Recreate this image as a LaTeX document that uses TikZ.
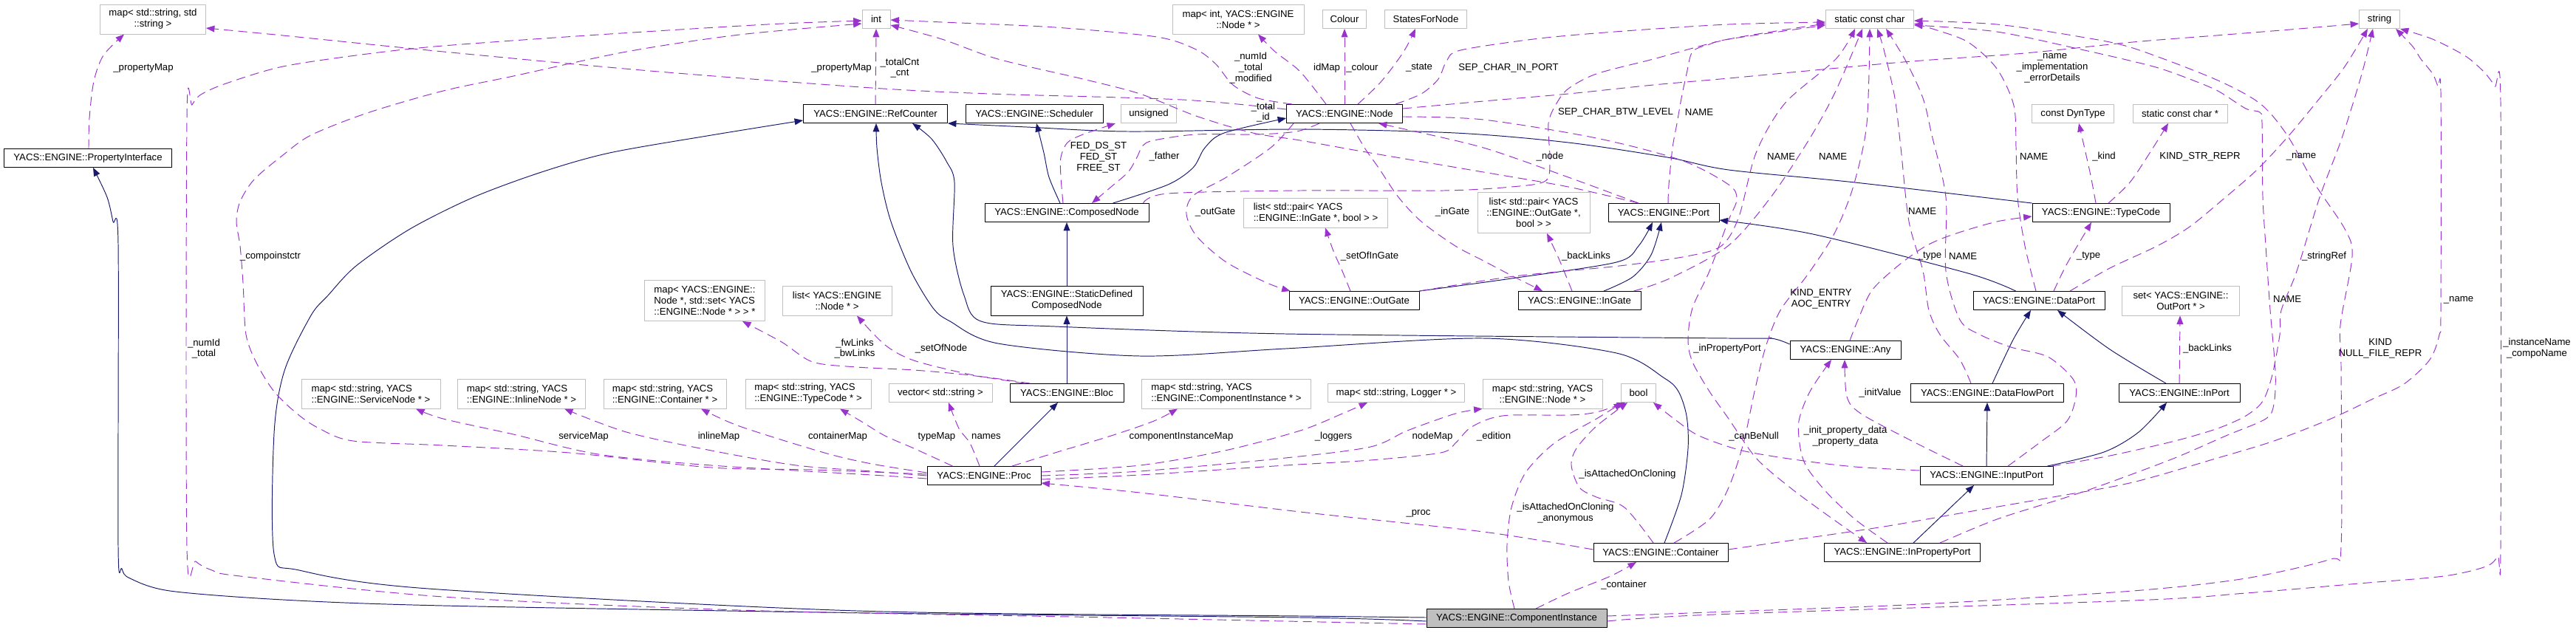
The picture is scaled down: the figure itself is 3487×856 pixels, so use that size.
\documentclass[tikz,border=0pt]{standalone}
\usepackage{fontspec}
\setmainfont{Liberation Sans}
\usetikzlibrary{arrows.meta,calc}
\definecolor{inhblue}{HTML}{191970}
\definecolor{usepurple}{HTML}{9A32CD}
\definecolor{boxgray}{HTML}{BFBFBF}
\begin{document}
\begin{tikzpicture}[x=0.02cm, y=-0.02cm, line join=round,
    cls/.style={draw=black, line width=0.55pt, inner sep=1pt, minimum height=0.5cm,
      font=\fontsize{7.5}{8.5}\selectfont, align=center},
    ext/.style={cls, draw=boxgray},
    bw/.style={minimum width=#1*0.02cm},
    twol/.style={minimum height=0.8cm},
    threel/.style={minimum height=1.1cm},
    lbl/.style={inner sep=0pt, font=\fontsize{7.5}{8.5}\selectfont, align=center},
    inh/.style={draw=inhblue, line width=0.55pt, -{Triangle[length=6.5pt,width=5pt]}},
    use/.style={draw=usepurple, line width=0.55pt, dash pattern=on 7pt off 4pt,
      -{Triangle[length=6.5pt,width=5pt]}},
    sm/.style={smooth, tension=0.5}]
  \fill[white] (0,0) rectangle (3487,856);
  \useasboundingbox (0,0) rectangle (3487,856);

  % types used by the classes
  \node[ext, bw=143, twol] (mapSS) at (207,26) {map< std::string, std\\::string >};
  \node[ext, bw=38] (intT) at (1186,26) {int};
  \node[ext, bw=178, twol] (mapIdNode) at (1676,26) {map< int, YACS::ENGINE\\::Node * >};
  \node[ext, bw=59] (colour) at (1820,26) {Colour};
  \node[ext, bw=111] (states) at (1930,26) {StatesForNode};
  \node[ext, bw=119] (sChar) at (2531,26) {static const char};
  \node[ext, bw=55] (stringT) at (3221,26) {string};
  \node[ext, bw=75] (unsignedT) at (1555,154) {unsigned};
  \node[ext, bw=111] (dynType) at (2806,154) {const DynType};
  \node[ext, bw=128] (sCharPtr) at (2951,154) {static const char *};
  \node[ext, bw=195, twol, align=left] (inGateList) at (1781,288) {list< std::pair< YACS\\::ENGINE::InGate *, bool > >};
  \node[ext, bw=152, threel] (outGateList) at (2076,288) {list< std::pair< YACS\\::ENGINE::OutGate *,\\bool > >};
  \node[ext, bw=163, threel, align=left] (nodeSetMap) at (954,407) {map< YACS::ENGINE::\\Node *, std::set< YACS\\::ENGINE::Node * > > *};
  \node[ext, bw=148, twol] (nodeList) at (1133,407) {list< YACS::ENGINE\\::Node * >};
  \node[ext, bw=159, twol] (outPortSet) at (2952,407) {set< YACS::ENGINE::\\OutPort * >};
  \node[ext, bw=188, twol, align=left] (serviceMapT) at (502,533) {map< std::string, YACS\\::ENGINE::ServiceNode * >};
  \node[ext, bw=173, twol, align=left] (inlineMapT) at (706,533) {map< std::string, YACS\\::ENGINE::InlineNode * >};
  \node[ext, bw=166, twol, align=left] (containerMapT) at (900,533) {map< std::string, YACS\\::ENGINE::Container * >};
  \node[ext, bw=170, twol, align=left] (typeMapT) at (1094,533) {map< std::string, YACS\\::ENGINE::TypeCode * >};
  \node[ext, bw=140] (strVector) at (1273,532) {vector< std::string >};
  \node[ext, bw=229, twol, align=left] (compoMapT) at (1660,533) {map< std::string, YACS\\::ENGINE::ComponentInstance * >};
  \node[ext, bw=185] (loggerMap) at (1890,532) {map< std::string, Logger * >};
  \node[ext, bw=162, twol] (nodeMapT) at (2088,533) {map< std::string, YACS\\::ENGINE::Node * >};
  \node[ext, bw=47] (boolT) at (2218,532) {bool};

  % classes
  \node[cls, bw=227] (propIface) at (119,214) {YACS::ENGINE::PropertyInterface};
  \node[cls, bw=195] (refCounter) at (1185,154) {YACS::ENGINE::RefCounter};
  \node[cls, bw=186] (scheduler) at (1400,154) {YACS::ENGINE::Scheduler};
  \node[cls, bw=157] (engNode) at (1820,154) {YACS::ENGINE::Node};
  \node[cls, bw=222] (composed) at (1444,288) {YACS::ENGINE::ComposedNode};
  \node[cls, bw=150] (port) at (2252,288) {YACS::ENGINE::Port};
  \node[cls, bw=186] (typeCode) at (2844,288) {YACS::ENGINE::TypeCode};
  \node[cls, bw=206, twol] (staticDef) at (1444,407) {YACS::ENGINE::StaticDefined\\ComposedNode};
  \node[cls, bw=176] (outGate) at (1833,407) {YACS::ENGINE::OutGate};
  \node[cls, bw=166] (inGate) at (2138,407) {YACS::ENGINE::InGate};
  \node[cls, bw=178] (dataPort) at (2760,407) {YACS::ENGINE::DataPort};
  \node[cls, bw=150] (any) at (2498,474) {YACS::ENGINE::Any};
  \node[cls, bw=154] (bloc) at (1444,532) {YACS::ENGINE::Bloc};
  \node[cls, bw=207] (dataFlow) at (2690,532) {YACS::ENGINE::DataFlowPort};
  \node[cls, bw=164] (inPort) at (2950,532) {YACS::ENGINE::InPort};
  \node[cls, bw=154] (proc) at (1332,644) {YACS::ENGINE::Proc};
  \node[cls, bw=180] (inputPort) at (2689,644) {YACS::ENGINE::InputPort};
  \node[cls, bw=182] (container) at (2248,748) {YACS::ENGINE::Container};
  \node[cls, bw=211] (inPropPort) at (2575,748) {YACS::ENGINE::InPropertyPort};
  \node[cls, bw=244, fill=boxgray] (compInst) at (2053,837) {YACS::ENGINE::ComponentInstance};

  % inheritance
  \draw[inh] plot[sm] coordinates {($(compInst.west)+(0,4)$) (1760,836) (1180,830) (600,820) (383,812) (230,800) (176,783) (165,770) (160,740) (160,330) (153,300) (145,267) ($(propIface.south)+(7,0)$)};
  \draw[inh] plot[sm] coordinates {($(compInst.west)+(0,-1)$) (1760,834) (1160,827) (580,797) (405,772) (371,750) (371,587) (385,502) (421,427) (444,400) (482,360) (555,310) (641,267) (733,233) (825,207) (963,183) ($(refCounter.west)+(0,9)$)};
  \draw[inh] plot[sm] coordinates {(typeCode.north west) (2511,247) (2340,230) (2257,213) (2123,193) (1970,180) (1760,175) (1527,178) (1390,172) (refCounter.south east)};
  \draw[inh] plot[sm] coordinates {($(container.north)+(5,0)$) (2276,670) (2285,607) (2283,563) (2272,530) (2253,512) (2188,478) (2008,458) (1740,472) (1543,482) (1351,465) (1286,435) (1263,417) (1233,367) (1206,300) (1193,247) (1187,200) ($(refCounter.south)+(1,0)$)};
  \draw[inh] plot[sm] coordinates {($(any.west)+(0,-8)$) (2397,458) (2340,458) (1740,452) (1428,442) (1328,435) (1305,400) (1290,333) (1292,247) (1282,220) (1261,188) ($(refCounter.south)+(50,0)$)};
  \draw[inh] plot[sm] coordinates {($(composed.north)+(-9,0)$) (1420,240) (1413,207) ($(scheduler.south)+(3,0)$)};
  \draw[inh] plot[sm] coordinates {($(composed.north east)+(-49,0)$) (1581,250) (1615,227) (1631,200) (1657,180) ($(engNode.west)+(0,6)$)};
  \draw[inh] (staticDef.north) -- (composed.south);
  \draw[inh] (bloc.north) -- (staticDef.south);
  \draw[inh] ($(proc.north)+(14,0)$) -- ($(bloc.south)+(-12,0)$);
  \draw[inh] plot[sm] coordinates {(outGate.north east) (2046,377) (2188,355) (2218,333) ($(port.south)+(-15,0)$)};
  \draw[inh] plot[sm] coordinates {($(inGate.north)+(33,0)$) (2210,375) (2235,345) ($(port.south)+(-3,0)$)};
  \draw[inh] plot[sm] coordinates {($(dataPort.north west)+(58,0)$) (2664,370) (2454,317) ($(port.east)+(0,10)$)};
  \draw[inh] plot[sm] coordinates {($(dataFlow.north)+(7,0)$) (2725,460) ($(dataPort.south)+(-11,0)$)};
  \draw[inh] plot[sm] coordinates {($(inPort.north)+(-18,0)$) (2856,473) ($(dataPort.south)+(25,0)$)};
  \draw[inh] (inputPort.north) -- (dataFlow.south);
  \draw[inh] plot[sm] coordinates {($(inputPort.north east)+(-8,0)$) (2848,612) (2895,585) ($(inPort.south)+(-17,0)$)};
  \draw[inh] ($(inPropPort.north)+(15,0)$) -- ($(inputPort.south)+(-17,0)$);

  % usage
  \draw[use] plot[sm] coordinates {($(propIface.north)+(1,0)$) (121,160) (127,110) (140,75) ($(mapSS.south)+(-39,0)$)};
  \draw[use] plot[sm] coordinates {($(engNode.west)+(0,-6)$) (1600,135) (1340,127) (1180,119) (880,96) (600,70) (383,48) ($(mapSS.east)+(0,12)$)};
  \draw[use] plot[sm] coordinates {($(compInst.west)+(0,8)$) (1500,836) (1000,826) (600,808) (325,780) (287,772) (265,760) (253,740) (253,160) (260,142) (272,128) (306,113) (383,90) (497,73) (600,62) (810,47) (1039,33) ($(intT.west)+(0,2)$)};
  \draw[use] plot[sm] coordinates {($(proc.west)+(0,-2)$) (1100,636) (963,633) (771,613) (600,603) (478,597) (432,580) (402,560) (371,530) (348,493) (333,453) (329,383) (325,333) (320,300) (325,273) (344,243) (383,210) (421,183) (497,153) (600,123) (695,103) (848,70) (1001,47) ($(intT.west)+(0,6)$)};
  \draw[use] (refCounter.north) -- (intT.south);
  \draw[use] plot[sm] coordinates {($(engNode.north west)+(8,0)$) (1703,133) (1669,115) (1646,87) (1619,67) (1566,50) (1428,37) (1275,30) ($(intT.east)+(0,1)$)};
  \draw[use] plot[sm] coordinates {($(port.north)+(-34,0)$) (2123,253) (2008,233) (1855,207) (1760,190) (1696,180) (1619,157) (1543,127) (1466,107) (1351,80) (1275,53) ($(intT.east)+(0,8)$)};
  \draw[use] plot[sm] coordinates {($(engNode.north)+(-25,0)$) (1760,97) (1726,70) ($(mapIdNode.south)+(27,0)$)};
  \draw[use] (engNode.north) -- (colour.south);
  \draw[use] plot[sm] coordinates {($(engNode.north)+(18,0)$) (1870,110) (1900,70) ($(states.south)+(-14,0)$)};
  \draw[use] plot[sm] coordinates {($(engNode.north)+(69,0)$) (1924,127) (1947,107) (1958,83) (1977,68) (2084,52) (2199,42) (2340,33) ($(sChar.west)+(0,4)$)};
  \draw[use] plot[sm] coordinates {($(composed.north east)+(-8,0)$) (1581,262) (1760,258) (1954,258) (2046,253) (2092,245) (2098,217) (2096,167) (2107,140) (2123,120) (2161,100) (2238,80) (2340,53) ($(sChar.west)+(0,6)$)};
  \draw[use] plot[sm] coordinates {($(engNode.south)+(-34,0)$) (1755,178) (1700,182) (1619,182) (1562,190) (1547,197) (1539,213) (1527,233) (1504,253) ($(composed.north)+(34,0)$)};
  \draw[use] plot[sm] coordinates {($(composed.north)+(-5,0)$) (1436,240) (1436,213) (1445,193) (1466,182) ($(unsignedT.south)+(-45,0)$)};
  \draw[use] plot[sm] coordinates {($(engNode.south west)+(10,0)$) (1720,200) (1660,240) (1615,265) (1606,290) (1620,320) (1660,355) (1715,383) ($(outGate.north west)+(2,0)$)};
  \draw[use] plot[sm] coordinates {($(engNode.south)+(8,0)$) (1847,200) (1866,227) (1893,267) (1924,300) (1970,333) (2008,353) (2046,373) ($(inGate.north)+(-50,0)$)};
  \draw[use] plot[sm] coordinates {($(outGate.north)+(-5,0)$) (1817,367) (1805,340) ($(inGateList.south)+(13,0)$)};
  \draw[use] plot[sm] coordinates {($(inGate.north)+(-10,0)$) (2110,350) ($(outGateList.south)+(18,0)$)};
  \draw[use] plot[sm] coordinates {($(port.north)+(-34,0)$) (2123,240) (2008,200) (1893,173) ($(engNode.south)+(46,0)$)};
  \draw[use] plot[sm] coordinates {($(port.north)+(6,0)$) (2259,250) (2264,200) (2270,167) (2276,133) (2283,100) (2291,70) (2314,60) (2340,53) ($(sChar.west)+(0,8)$)};
  \draw[use] plot[sm] coordinates {(outGate.north east) (2050,374) (2192,360) (2283,347) (2330,333) (2354,293) (2377,207) (2416,140) (2485,80) ($(sChar.south)+(-20,0)$)};
  \draw[use] plot[sm] coordinates {($(inGate.north east)+(-10,0)$) (2260,377) (2339,333) (2397,267) (2450,187) (2485,123) ($(sChar.south)+(-10,0)$)};
  \draw[use] plot[sm] coordinates {($(container.north)+(18,0)$) (2314,703) (2340,660) (2360,600) (2375,530) (2390,470) (2410,420) (2446,373) (2481,320) (2504,267) (2519,213) (2527,167) (2530,100) (sChar.south)};
  \draw[use] plot[sm] coordinates {($(dataFlow.north)+(-22,0)$) (2653,487) (2626,453) (2611,420) (2603,367) (2584,300) (2573,200) (2565,133) (2550,67) ($(sChar.south)+(10,0)$)};
  \draw[use] plot[sm] coordinates {($(inputPort.north)+(29,0)$) (2760,600) (2798,570) (2810,537) (2806,513) (2772,483) (2722,470) (2680,453) (2653,433) (2634,367) (2634,267) (2615,183) (2603,133) (2580,83) ($(sChar.south)+(22,0)$)};
  \draw[use] plot[sm] coordinates {($(dataPort.north)+(-4,0)$) (2741,333) (2731,267) (2729,200) (2726,143) (2703,93) (2664,57) (2619,40) ($(sChar.east)+(0,6)$)};
  \draw[use] plot[sm] coordinates {($(compInst.east)+(0,-3)$) (2340,828) (2600,818) (2887,800) (3040,783) (3155,757) (3169,740) (3169,500) (3168,440) (3184,347) (3174,310) (3132,247) (3096,183) (3059,140) (2998,107) (2887,65) (2817,50) (2703,33) ($(sChar.east)+(0,2)$)};
  \draw[use] plot[sm] coordinates {($(compInst.east)+(0,4)$) (2320,832) (2887,813) (3040,803) (3193,790) (3308,780) (3365,767) (3381,753) (3385,737) (3385,140) (3377,117) (3362,97) (3339,77) (3308,60) (3285,50) (stringT.south east)};
  \draw[use] plot[sm] coordinates {($(engNode.east)+(0,-7)$) (2008,137) (2123,127) (2238,115) (2340,106) (2435,97) (2588,83) (2741,72) (2887,57) (3000,48) (3100,40) ($(stringT.west)+(0,6)$)};
  \draw[use] plot[sm] coordinates {($(dataPort.north)+(42,0)$) (2856,363) (2920,333) (2964,307) (3009,270) (3055,230) (3097,185) (3140,133) (3174,90) ($(stringT.south)+(-16,0)$)};
  \draw[use] plot[sm] coordinates {($(inputPort.north east)+(-2,0)$) (2856,617) (2944,597) (3002,580) (3040,563) (3063,543) (3076,507) (3086,453) (3088,420) (3109,367) (3140,267) (3170,187) (3197,100) ($(stringT.south)+(-9,0)$)};
  \draw[use] plot[sm] coordinates {($(inPropPort.north east)+(-55,0)$) (2703,703) (2798,673) (2856,653) (2944,620) (3013,590) (3067,567) (3078,547) (3080,503) (3073,420) (3067,333) (3063,267) (3062,167) (3059,152) (3040,147) (3002,123) (2964,107) (2925,93) (2887,83) (2817,67) (2703,43) ($(sChar.east)+(0,8)$)};
  \draw[use] plot[sm] coordinates {($(container.east)+(0,-4)$) (2435,730) (2550,713) (2664,693) (2779,673) (2887,653) (3002,620) (3078,597) (3155,567) (3212,540) (3254,520) (3289,487) (3302,453) (3304,420) (3304,127) (3300,117) (3293,100) (3277,80) (3266,63) ($(stringT.south)+(22,0)$)};
  \draw[use] (inPort.north) -- ($(outPortSet.south)+(-1,0)$);
  \draw[use] plot[sm] coordinates {($(typeCode.north)+(-7,0)$) (2829,233) ($(dynType.south)+(8,0)$)};
  \draw[use] plot[sm] coordinates {($(typeCode.north)+(10,0)$) (2883,247) (2910,207) ($(sCharPtr.south)+(-16,0)$)};
  \draw[use] plot[sm] coordinates {($(any.north)+(6,0)$) (2515,433) (2534,393) (2569,360) (2607,333) (2645,317) (2703,300) ($(typeCode.west)+(0,5)$)};
  \draw[use] plot[sm] coordinates {($(dataPort.north)+(20,0)$) (2798,357) ($(typeCode.south)+(-13,0)$)};
  \draw[use] plot[sm] coordinates {($(proc.west)+(0,4)$) (1180,643) (963,630) (810,615) (695,588) (600,567) ($(serviceMapT.south)+(61,0)$)};
  \draw[use] plot[sm] coordinates {(proc.west) (1180,638) (1078,630) (963,610) (848,585) ($(inlineMapT.south)+(58,0)$)};
  \draw[use] plot[sm] coordinates {($(proc.west)+(0,-4)$) (1180,628) (1116,613) (1001,577) ($(containerMapT.south)+(49,0)$)};
  \draw[use] plot[sm] coordinates {($(proc.north west)+(35,0)$) (1237,607) (1198,590) (1165,570) ($(typeMapT.south)+(43,0)$)};
  \draw[use] plot[sm] coordinates {($(proc.north)+(-6,0)$) (1313,600) (1298,580) ($(strVector.south)+(11,0)$)};
  \draw[use] plot[sm] coordinates {($(proc.north)+(38,0)$) (1428,613) (1504,590) (1562,570) ($(compoMapT.south)+(-66,0)$)};
  \draw[use] plot[sm] coordinates {($(proc.east)+(0,-5)$) (1543,630) (1658,610) (1760,583) (1817,560) ($(loggerMap.south)+(-39,0)$)};
  \draw[use] plot[sm] coordinates {(proc.east) (1543,638) (1740,620) (1855,605) (1905,583) (1970,560) (nodeMapT.south west)};
  \draw[use] plot[sm] coordinates {($(proc.east)+(0,5)$) (1543,643) (1740,630) (1855,623) (1950,613) (1970,600) (1989,580) (2016,567) (2046,562) (2123,562) (2161,558) ($(boolT.south)+(-18,0)$)};
  \draw[use] plot[sm] coordinates {($(container.west)+(0,-4)$) (2008,720) (1760,693) (1543,667) ($(proc.east)+(0,10)$)};
  \draw[use] plot[sm] coordinates {($(container.north)+(-10,0)$) (2199,687) (2161,673) (2138,660) (2127,630) (2134,607) (2161,577) ($(boolT.south)+(-15,0)$)};
  \draw[use] plot[sm] coordinates {($(compInst.north)+(-3,0)$) (2042,787) (2040,737) (2046,687) (2065,640) (2104,600) (2161,567) ($(boolT.south)+(-22,0)$)};
  \draw[use] plot[sm] coordinates {($(compInst.north)+(26,0)$) (2123,803) (2180,780) ($(container.south)+(-33,0)$)};
  \draw[use] plot[sm] coordinates {($(inputPort.west)+(0,-7)$) (2511,632) (2435,623) (2358,610) (2300,590) (2270,570) ($(boolT.south east)+(-4,0)$)};
  \draw[use] plot[sm] coordinates {($(inputPort.north)+(-32,0)$) (2588,597) (2519,560) (2500,537) ($(any.south)+(-1,0)$)};
  \draw[use] plot[sm] coordinates {($(inPropPort.north)+(-20,0)$) (2511,703) (2473,667) (2446,633) (2437,607) (2435,570) (2450,530) ($(any.south)+(-19,0)$)};
  \draw[use] plot[sm] coordinates {($(engNode.east)+(0,4)$) (2008,162) (2161,187) (2276,217) (2340,250) (2351,270) (2339,300) (2314,367) (2291,417) (2285,460) (2291,490) (2314,530) (2340,567) (2377,620) (2423,660) (2473,697) ($(inPropPort.north)+(-48,0)$)};
  \draw[use] plot[sm] coordinates {($(bloc.north west)+(28,0)$) (1353,513) (1313,507) (1237,488) (1198,467) ($(nodeList.south)+(27,0)$)};
  \draw[use] plot[sm] coordinates {($(bloc.north west)+(20,0)$) (1313,508) (1237,501) (1160,497) (1100,490) (1058,463) ($(nodeSetMap.south)+(51,0)$)};

  % member names
  \node[lbl] (lbPropMapA) at (194,92) {\_propertyMap};
  \node[lbl] (lbPropMapB) at (1139,92) {\_propertyMap};
  \node[lbl] (lbNumIdA) at (276,472) {\_numId\\\_total};
  \node[lbl] (lbCompoCtr) at (366,347) {\_compoinstctr};
  \node[lbl] (lbTotalCnt) at (1218,92) {\_totalCnt\\\_cnt};
  \node[lbl] (lbNumIdB) at (1693,92) {\_numId\\\_total\\\_modified};
  \node[lbl] (lbTotalId) at (1710,152) {\_total\\\_id};
  \node[lbl] (lbIdMap) at (1796,92) {idMap};
  \node[lbl] (lbColour) at (1844,92) {\_colour};
  \node[lbl] (lbState) at (1921,92) {\_state};
  \node[lbl] (lbSepPort) at (2042,92) {SEP\_CHAR\_IN\_PORT};
  \node[lbl] (lbSepLevel) at (2187,152) {SEP\_CHAR\_BTW\_LEVEL};
  \node[lbl] (lbNameA) at (2300,152) {NAME};
  \node[lbl] (lbFather) at (1576,212) {\_father};
  \node[lbl] (lbStates) at (1487,213) {FED\_DS\_ST\\FED\_ST\\FREE\_ST};
  \node[lbl] (lbNode) at (2098,212) {\_node};
  \node[lbl] (lbNameB) at (2411,212) {NAME};
  \node[lbl] (lbNameC) at (2481,212) {NAME};
  \node[lbl] (lbNameD) at (2753,212) {NAME};
  \node[lbl] (lbKind) at (2848,212) {\_kind};
  \node[lbl] (lbKindRepr) at (2978,212) {KIND\_STR\_REPR};
  \node[lbl] (lbNameE) at (3115,212) {\_name};
  \node[lbl] (lbNodeNames) at (2778,92) {\_name\\\_implementation\\\_errorDetails};
  \node[lbl] (lbOutGate) at (1645,287) {\_outGate};
  \node[lbl] (lbInGate) at (1966,287) {\_inGate};
  \node[lbl] (lbNameF) at (2602,286) {NAME};
  \node[lbl] (lbSetInGate) at (1854,347) {\_setOfInGate};
  \node[lbl] (lbBackA) at (2147,347) {\_backLinks};
  \node[lbl] (lbTypeA) at (2612,347) {\_type};
  \node[lbl] (lbNameG) at (2657,347) {NAME};
  \node[lbl] (lbTypeB) at (2827,347) {\_type};
  \node[lbl] (lbStringRef) at (3146,347) {\_stringRef};
  \node[lbl] (lbEntry) at (2465,405) {KIND\_ENTRY\\AOC\_ENTRY};
  \node[lbl] (lbNameH) at (3096,405) {NAME};
  \node[lbl] (lbNameI) at (3328,406) {\_name};
  \node[lbl] (lbLinks) at (1157,472) {\_fwLinks\\\_bwLinks};
  \node[lbl] (lbSetNode) at (1274,472) {\_setOfNode};
  \node[lbl] (lbInProp) at (2338,472) {\_inPropertyPort};
  \node[lbl] (lbBackB) at (2988,472) {\_backLinks};
  \node[lbl] (lbKindNull) at (3222,472) {KIND\\NULL\_FILE\_REPR};
  \node[lbl] (lbInstName) at (3434,472) {\_instanceName\\\_compoName};
  \node[lbl] (lbInitVal) at (2545,532) {\_initValue};
  \node[lbl] (lbServMap) at (790,591) {serviceMap};
  \node[lbl] (lbInlMap) at (973,591) {inlineMap};
  \node[lbl] (lbContMap) at (1134,591) {containerMap};
  \node[lbl] (lbTypeMap) at (1268,591) {typeMap};
  \node[lbl] (lbNames) at (1335,591) {names};
  \node[lbl] (lbCompoMap) at (1599,591) {componentInstanceMap};
  \node[lbl] (lbLoggers) at (1805,591) {\_loggers};
  \node[lbl] (lbNodeMap) at (1939,591) {nodeMap};
  \node[lbl] (lbEdition) at (2022,591) {\_edition};
  \node[lbl] (lbCanNull) at (2374,591) {\_canBeNull};
  \node[lbl] (lbPropData) at (2498,591) {\_init\_property\_data\\\_property\_data};
  \node[lbl] (lbAttached) at (2203,642) {\_isAttachedOnCloning};
  \node[lbl] (lbProc) at (1920,695) {\_proc};
  \node[lbl] (lbAnon) at (2119,695) {\_isAttachedOnCloning\\\_anonymous};
  \node[lbl] (lbContainer) at (2198,792) {\_container};
\end{tikzpicture}
\end{document}
